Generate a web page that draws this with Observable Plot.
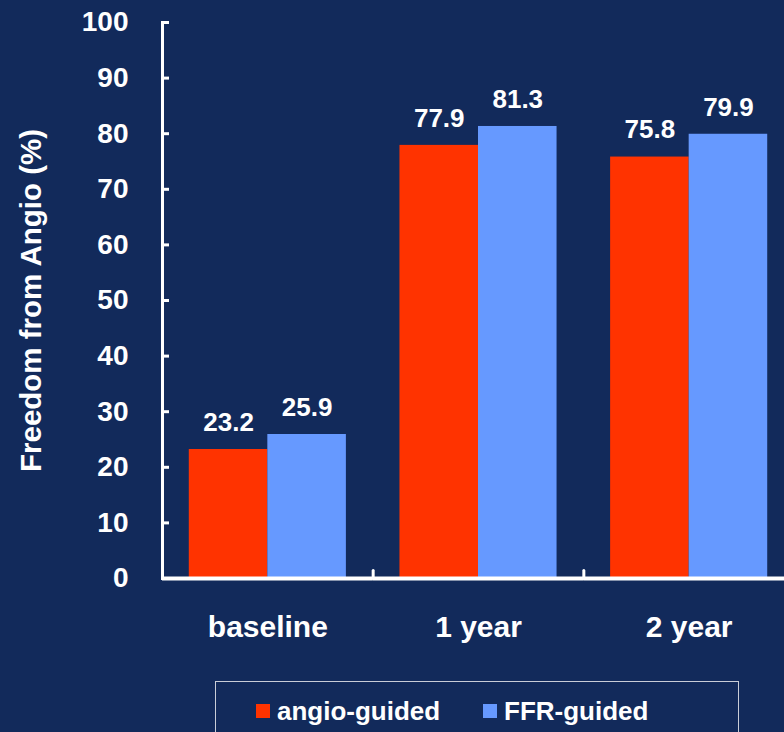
<!DOCTYPE html>
<html>
<head>
<meta charset="utf-8">
<script src="https://cdn.jsdelivr.net/npm/d3@7"></script>
<script src="https://cdn.jsdelivr.net/npm/@observablehq/plot@0.6"></script>
<style>
  html, body { margin: 0; padding: 0; }
  body {
    width: 784px; height: 732px; overflow: hidden; position: relative;
    background: #122a5b;
    font-family: "Liberation Sans", Arial, sans-serif;
    font-weight: bold; color: #fff;
  }
  #chart { position: absolute; left: 0; top: 0; }
  #chart svg { max-width: none !important; }
  #legend {
    position: absolute; left: 215px; top: 681px; width: 524px; height: 70px;
    border: 1px solid #c9cdd8; box-sizing: border-box;
  }
  .item { position: absolute; top: 14px; display: flex; align-items: center; font-size: 26px; line-height: 30px; }
  .sw { width: 14px; height: 14px; margin-right: 7px; box-sizing: border-box; }
</style>
</head>
<body>
<div id="chart"></div>
<div id="legend"></div>
<script>
const categories = ["baseline", "1 year", "2 year"];
const series = ["angio-guided", "FFR-guided"];
const angioValues = [23.2, 77.9, 75.8];
const ffrValues = [25.9, 81.3, 79.9];
const yTicks = [0, 10, 20, 30, 40, 50, 60, 70, 80, 90, 100];
const colors = ["#ff3300", "#6699ff"];
const yTitle = "Freedom from Angio (%)";

const data = categories.flatMap((c, i) => [
  {cat: c, series: series[0], value: angioValues[i]},
  {cat: c, series: series[1], value: ffrValues[i]}
]);

const font = '"Liberation Sans", Arial, sans-serif';
const tickShape = {draw(context, l) { context.moveTo(0, 0); context.lineTo(0, -l); }};

const chart = Plot.plot({
  width: 794,
  height: 660,
  marginLeft: 162,
  marginRight: 0,
  marginTop: 22,
  marginBottom: 82,
  style: {background: "transparent", color: "white", fontFamily: font, fontWeight: "bold", fontSize: "28px", overflow: "visible", maxWidth: "none"},
  fx: {domain: categories, padding: 0, round: false, label: null},
  x: {domain: series, paddingInner: 0, paddingOuter: 0.341, round: false, axis: null},
  y: {domain: [0, 100], ticks: yTicks},
  color: {domain: series, range: colors},
  marks: [
    Plot.barY(data, {fx: "cat", x: "series", y: "value", fill: "series"}),
    Plot.text(data, {fx: "cat", x: "series", y: "value", text: d => d.value.toFixed(1), dy: -27, fontSize: 26, fill: "white"}),
    Plot.ruleY([0], {stroke: "white", strokeWidth: 4}),
    Plot.frame({anchor: "left", stroke: "white", strokeWidth: 3, fx: ["baseline"]}),
    Plot.vector(categories.slice(1), {fx: d => d, frameAnchor: "bottom-left", length: 8, rotate: 0, anchor: "start", shape: tickShape, stroke: "white", strokeWidth: 3}),
    Plot.axisY({ticks: yTicks, tickSize: -7, text: null, strokeWidth: 3, label: null}),
    Plot.axisY({ticks: yTicks, tickSize: 0, tickPadding: 34, fontSize: 28, label: null}),
    Plot.axisY({ticks: [], tickSize: 0, fontSize: 29.5, label: yTitle, labelAnchor: "center", labelArrow: "none", labelOffset: 142}),
    Plot.axisFx({anchor: "bottom", tickSize: 0, tickPadding: 37, fontSize: 30, label: null})
  ]
});
chart.style.maxWidth = "none";
document.getElementById("chart").appendChild(chart);

const legend = document.getElementById("legend");
const lefts = [40, 267];
series.forEach((s, i) => {
  const item = document.createElement("div");
  item.className = "item";
  item.style.left = lefts[i] + "px";
  const sw = document.createElement("span");
  sw.className = "sw";
  sw.style.background = colors[i];
  const t = document.createElement("span");
  t.textContent = s;
  item.appendChild(sw);
  item.appendChild(t);
  legend.appendChild(item);
});
</script>
</body>
</html>
